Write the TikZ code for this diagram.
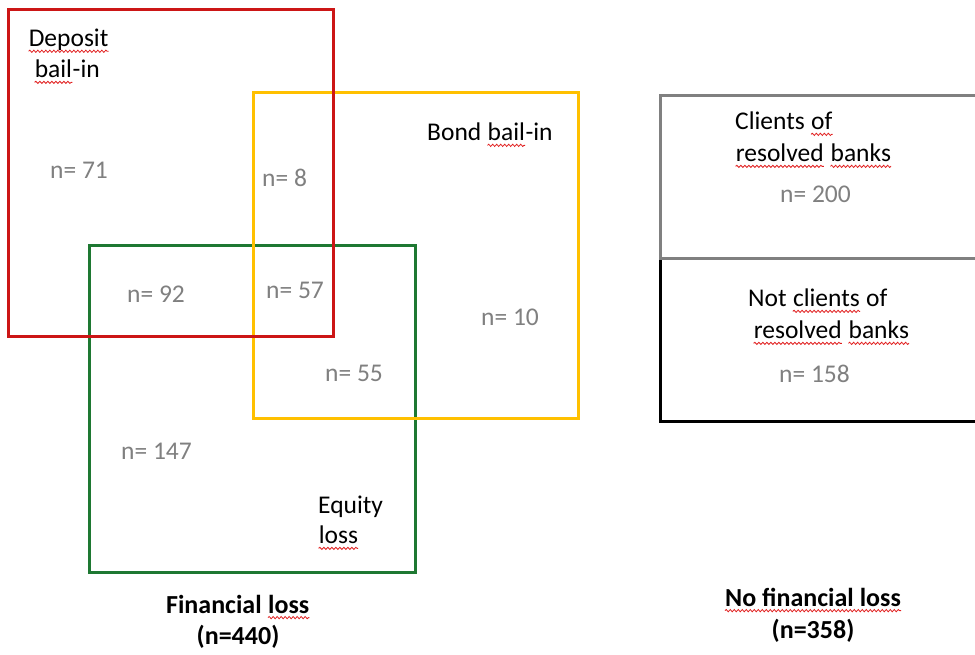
\documentclass[tikz,border=0pt]{standalone}
\usepackage{fontspec}
\setmainfont{Carlito}
\usetikzlibrary{decorations.pathmorphing}
\definecolor{boxred}{RGB}{204,22,22}
\definecolor{boxyellow}{RGB}{255,192,0}
\definecolor{boxgreen}{RGB}{30,120,50}
\definecolor{boxgray}{RGB}{128,128,128}
\definecolor{numgray}{RGB}{128,128,128}
\definecolor{squigred}{RGB}{225,30,30}
\newcommand\sqg[1]{\tikz[baseline=0pt]{\node[inner sep=0pt,anchor=base west] (sqt) at (0,0) {#1};
 \draw[squigred,line width=0.8pt,decorate,decoration={snake,amplitude=1.1pt,segment length=4pt}] ([yshift=-4.5pt]sqt.base west) -- ([yshift=-4.5pt]sqt.base east);}}
\tikzset{
  lbl/.style={inner sep=0pt,anchor=west,font=\fontsize{25.5}{30}\selectfont,text=black},
  num/.style={inner sep=0pt,anchor=west,font=\fontsize{25.5}{30}\selectfont,text=numgray},
  ttl/.style={inner sep=0pt,anchor=center,font=\fontsize{26}{31}\selectfont\bfseries,text=black},
  setbox/.style={line width=3pt}
}
\begin{document}
\begin{tikzpicture}[x=1pt,y=-1pt]
\useasboundingbox[fill=white] (0,0) rectangle (975,655);
% sets
\draw[setbox,boxgreen] (89,246) rectangle (415,572);
\draw[setbox,boxyellow] (253,93) rectangle (578,418);
\draw[setbox,boxred] (8,10) rectangle (333,336);
% right boxes
\draw[setbox,black] (660,259) -- (660,421) -- (985,421);
\draw[setbox,boxgray] (985,96) -- (660,96) -- (660,259) -- (985,259);
% labels
\node[lbl] (dep1) at (28,41) {\sqg{Deposit}};
\node[lbl] (dep2) at (34,72) {\sqg{bail}-in};
\node[lbl] (bond) at (427,135) {Bond \sqg{bail}-in};
\node[lbl] (eq1) at (318,507) {Equity};
\node[lbl] (eq2) at (318,538) {\sqg{loss}};
\node[lbl] (cl1) at (735,124) {Clients \sqg{of}};
\node[lbl] (cl2) at (735,156) {\sqg{resolved} \sqg{banks}};
\node[lbl] (nc1) at (748,301) {Not \sqg{clients} of};
\node[lbl] (nc2) at (753,333) {\sqg{resolved} \sqg{banks}};
% numbers
\node[num] (n71) at (50,170) {n= 71};
\node[num] (n8) at (262,178) {n= 8};
\node[num] (n92) at (127,294) {n= 92};
\node[num] (n57) at (266,290) {n= 57};
\node[num] (n10) at (481,317) {n= 10};
\node[num] (n55) at (325,373) {n= 55};
\node[num] (n147) at (121,451) {n= 147};
\node[num] (n200) at (780,194) {n= 200};
\node[num] (n158) at (779,374) {n= 158};
% titles
\node[ttl] (fl1) at (238,607) {Financial \sqg{loss}};
\node[ttl] (fl2) at (238,637) {(n=440)};
\node[ttl] (nf1) at (813,600) {\sqg{No financial loss}};
\node[ttl] (nf2) at (813,631) {(n=358)};
\end{tikzpicture}
\end{document}
